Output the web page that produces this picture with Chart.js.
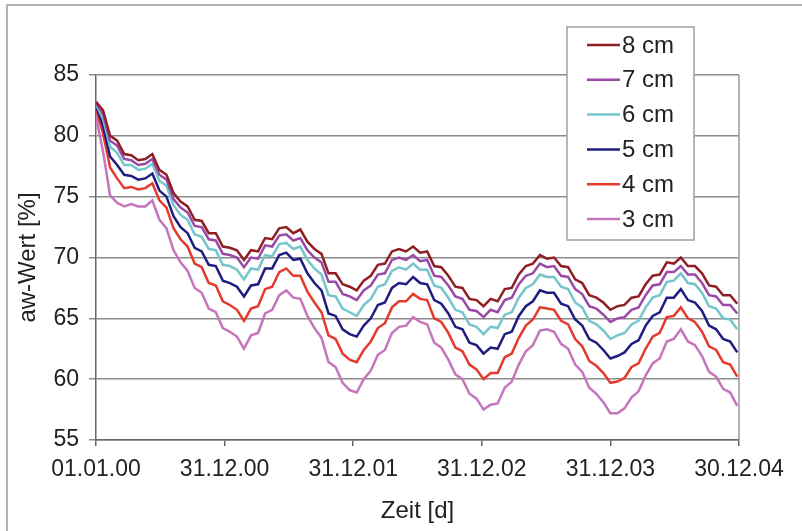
<!DOCTYPE html>
<html>
<head>
<meta charset="utf-8">
<script src="https://cdn.jsdelivr.net/npm/chart.js@4.4.1/dist/chart.umd.min.js"></script>
<style>
  html, body { margin: 0; padding: 0; background: #fff; }
  #frame { position: absolute; left: 6px; top: 4px; width: 820px; height: 560px;
           border-top: 2px solid #b4b4b4; border-left: 2px solid #b4b4b4; }
  #wrap { position: absolute; left: 0; top: 0; width: 802px; height: 531px; }
</style>
</head>
<body>
<div id="frame"></div>
<div id="wrap"><canvas id="chart" width="802" height="531"></canvas></div>
<script>
// Tage seit 01.01.00
const days = [0, 20, 40, 60, 80, 100, 120, 140, 160, 180, 200, 220, 240, 260, 280, 300, 320, 340, 360, 380,
  400, 420, 440, 460, 480, 500, 520, 540, 560, 580, 600, 620, 640, 660, 680, 700, 720, 740, 760, 780,
  800, 820, 840, 860, 880, 900, 920, 940, 960, 980, 1000, 1020, 1040, 1060, 1080, 1100, 1120, 1140, 1160, 1180,
  1200, 1220, 1240, 1260, 1280, 1300, 1320, 1340, 1360, 1380, 1400, 1420, 1440, 1460, 1480, 1500, 1520, 1540, 1560, 1580,
  1600, 1620, 1640, 1660, 1680, 1700, 1720, 1740, 1760, 1780, 1800, 1820];

const tickLabels = ['01.01.00', '31.12.00', '31.12.01', '31.12.02', '31.12.03', '30.12.04'];
const seriesNames = ['8 cm', '7 cm', '6 cm', '5 cm', '4 cm', '3 cm'];

const cm8 = [82.8, 82.1, 80.0, 79.6, 78.5, 78.4, 78.0, 78.1, 78.5, 77.2, 76.8, 75.3, 74.6, 74.2, 73.1, 73.0, 72.0, 72.0, 70.9, 70.8,
  70.6, 69.8, 70.6, 70.5, 71.6, 71.5, 72.4, 72.5, 72.0, 72.3, 71.3, 70.7, 70.3, 68.7, 68.7, 67.8, 67.6, 67.3, 68.1, 68.5,
  69.4, 69.5, 70.5, 70.7, 70.5, 70.9, 70.4, 70.5, 69.3, 69.2, 68.5, 67.6, 67.5, 66.6, 66.5, 66.0, 66.6, 66.4, 67.4, 67.5,
  68.6, 69.3, 69.5, 70.2, 69.9, 70.0, 69.3, 69.2, 68.2, 67.9, 66.9, 66.7, 66.3, 65.7, 66.0, 66.1, 66.7, 66.8, 67.8, 68.5,
  68.6, 69.6, 69.5, 70.0, 69.3, 69.3, 68.7, 67.7, 67.6, 66.9, 66.9, 66.2];

const cm7 = [82.7, 81.8, 79.6, 79.2, 78.1, 78.0, 77.6, 77.7, 78.1, 76.8, 76.4, 74.8, 74.1, 73.7, 72.6, 72.5, 71.5, 71.4, 70.3, 70.2,
  70.0, 69.2, 70.0, 69.9, 71.0, 70.9, 71.8, 71.9, 71.4, 71.6, 70.6, 70.0, 69.6, 68.0, 68.0, 67.0, 66.8, 66.5, 67.3, 67.7,
  68.6, 68.7, 69.8, 70.0, 69.8, 70.2, 69.7, 69.8, 68.5, 68.4, 67.7, 66.8, 66.6, 65.7, 65.6, 65.1, 65.7, 65.5, 66.5, 66.7,
  67.8, 68.5, 68.7, 69.5, 69.2, 69.3, 68.5, 68.4, 67.4, 67.0, 66.0, 65.8, 65.3, 64.7, 65.0, 65.1, 65.7, 65.9, 66.9, 67.7,
  67.8, 68.8, 68.8, 69.3, 68.6, 68.6, 67.9, 66.9, 66.8, 66.1, 66.1, 65.4];

const cm6 = [82.6, 81.4, 79.1, 78.6, 77.6, 77.6, 77.2, 77.3, 77.7, 76.3, 75.9, 74.3, 73.5, 73.1, 71.9, 71.7, 70.7, 70.6, 69.4, 69.3,
  69.0, 68.2, 69.1, 69.0, 70.2, 70.1, 71.1, 71.2, 70.7, 70.9, 69.8, 69.1, 68.6, 66.9, 66.8, 65.8, 65.5, 65.2, 66.1, 66.6,
  67.6, 67.8, 68.9, 69.2, 69.0, 69.5, 69.0, 69.0, 67.7, 67.5, 66.7, 65.7, 65.5, 64.5, 64.3, 63.7, 64.3, 64.2, 65.3, 65.5,
  66.7, 67.5, 67.8, 68.6, 68.4, 68.4, 67.6, 67.4, 66.3, 65.9, 64.8, 64.5, 64.0, 63.3, 63.6, 63.8, 64.5, 64.8, 65.9, 66.7,
  66.9, 68.0, 68.1, 68.7, 67.9, 67.8, 67.1, 66.0, 65.8, 65.0, 64.9, 64.1];

const cm5 = [82.5, 80.8, 78.3, 77.6, 76.8, 76.7, 76.4, 76.5, 76.9, 75.5, 75.0, 73.4, 72.5, 72.0, 70.8, 70.5, 69.4, 69.3, 68.1, 67.9,
  67.6, 66.8, 67.7, 67.8, 69.1, 69.1, 70.2, 70.4, 69.8, 69.9, 68.7, 67.9, 67.3, 65.4, 65.2, 64.1, 63.7, 63.5, 64.4, 65.0,
  66.1, 66.3, 67.5, 67.9, 67.8, 68.4, 67.9, 67.8, 66.5, 66.2, 65.4, 64.3, 64.1, 63.0, 62.8, 62.1, 62.6, 62.5, 63.7, 63.9,
  65.2, 66.0, 66.4, 67.3, 67.1, 67.1, 66.2, 66.0, 64.9, 64.4, 63.3, 63.0, 62.4, 61.7, 61.9, 62.2, 62.9, 63.2, 64.4, 65.2,
  65.5, 66.7, 66.7, 67.4, 66.5, 66.3, 65.6, 64.4, 64.1, 63.3, 63.1, 62.2];

const cm4 = [82.2, 80.2, 77.4, 76.5, 75.7, 75.8, 75.6, 75.7, 76.1, 74.7, 74.1, 72.4, 71.5, 70.9, 69.5, 69.2, 67.9, 67.7, 66.4, 66.1,
  65.7, 64.8, 65.8, 66.0, 67.4, 67.6, 68.8, 69.1, 68.5, 68.5, 67.2, 66.3, 65.5, 63.6, 63.3, 62.1, 61.6, 61.4, 62.4, 63.1,
  64.2, 64.6, 65.9, 66.4, 66.4, 67.0, 66.6, 66.5, 65.0, 64.7, 63.8, 62.6, 62.3, 61.2, 60.8, 60.0, 60.5, 60.5, 61.8, 62.1,
  63.4, 64.4, 64.9, 65.9, 65.8, 65.7, 64.8, 64.5, 63.3, 62.7, 61.5, 61.1, 60.5, 59.7, 59.8, 60.1, 61.0, 61.3, 62.5, 63.5,
  63.8, 65.1, 65.2, 65.9, 65.0, 64.7, 63.9, 62.7, 62.4, 61.4, 61.2, 60.2];

const cm3 = [81.6, 78.7, 75.1, 74.5, 74.2, 74.4, 74.2, 74.2, 74.7, 73.1, 72.4, 70.6, 69.6, 68.9, 67.5, 67.1, 65.8, 65.5, 64.2, 63.9,
  63.5, 62.5, 63.6, 63.8, 65.4, 65.7, 66.9, 67.3, 66.7, 66.6, 65.2, 64.2, 63.4, 61.4, 61.0, 59.7, 59.1, 58.9, 60.0, 60.7,
  62.0, 62.4, 63.8, 64.3, 64.4, 65.1, 64.7, 64.5, 63.0, 62.6, 61.6, 60.4, 60.0, 58.8, 58.4, 57.5, 57.9, 58.0, 59.3, 59.8,
  61.2, 62.3, 62.8, 64.0, 64.1, 63.9, 62.9, 62.5, 61.2, 60.6, 59.3, 58.8, 58.1, 57.2, 57.2, 57.6, 58.5, 59.0, 60.3, 61.3,
  61.7, 63.1, 63.3, 64.1, 63.1, 62.8, 61.9, 60.6, 60.2, 59.2, 58.9, 57.8];

const seriesValues = [cm8, cm7, cm6, cm5, cm4, cm3];
const seriesColors = ['#8e1f24', '#9a4aa6', '#74c6cc', '#1f1d80', '#e43a2c', '#c674bc'];

const FONT = '"Liberation Sans", Arial, sans-serif';

function toPoints(vals) {
    return vals.map((v, i) => ({ x: days[i], y: v }));
}

// Legende mit Rahmen, wie im Original rechts oben
const boxLegend = {
    id: 'boxLegend',
    afterDraw(chart) {
        const ctx = chart.ctx;
        const x0 = 567, y0 = 27, w = 127, h = 213;
        ctx.save();
        ctx.fillStyle = '#fff';
        ctx.fillRect(x0, y0, w, h);
        ctx.strokeStyle = '#a0a0a0';
        ctx.lineWidth = 1.5;
        ctx.strokeRect(x0, y0, w, h);
        ctx.font = '24px ' + FONT;
        ctx.textBaseline = 'middle';
        ctx.textAlign = 'left';
        chart.data.datasets.forEach((ds, i) => {
            const y = 45 + i * 34.8;
            ctx.strokeStyle = ds.borderColor;
            ctx.lineWidth = 2.5;
            ctx.beginPath();
            ctx.moveTo(587, y);
            ctx.lineTo(620, y);
            ctx.stroke();
            ctx.fillStyle = '#222';
            ctx.fillText(ds.label, 622, y + 1);
        });
        ctx.restore();
    }
};

// rechter Rand der Zeichenflaeche
const plotFrame = {
    id: 'plotFrame',
    beforeDatasetsDraw(chart) {
        const { ctx, chartArea } = chart;
        ctx.save();
        ctx.strokeStyle = '#9a9a9a';
        ctx.lineWidth = 1.5;
        ctx.beginPath();
        ctx.moveTo(chartArea.right, chartArea.top);
        ctx.lineTo(chartArea.right, chartArea.bottom);
        ctx.stroke();
        ctx.restore();
    }
};

new Chart(document.getElementById('chart'), {
    type: 'line',
    data: {
        datasets: seriesNames.map((name, i) => ({
            label: name,
            data: toPoints(seriesValues[i]),
            borderColor: seriesColors[i],
            backgroundColor: seriesColors[i],
            borderWidth: 2.5,
            pointRadius: 0,
            tension: 0,
            fill: false,
        })),
    },
    options: {
        responsive: false,
        animation: false,
        layout: { padding: { left: 8, right: 63, top: 75, bottom: 0 } },
        plugins: {
            legend: { display: false },
            tooltip: { enabled: false },
        },
        scales: {
            x: {
                type: 'linear',
                min: 0,
                max: 1825,
                afterFit: (s) => { s.height = 91; },
                ticks: {
                    stepSize: 365,
                    autoSkip: false,
                    maxRotation: 0,
                    padding: 10,
                    color: '#222',
                    font: { family: FONT, size: 23 },
                    callback: (v) => tickLabels[Math.round(v / 365)],
                },
                grid: { drawOnChartArea: false, drawTicks: true, tickLength: 6, color: '#666', lineWidth: 1.5 },
                border: { color: '#666', width: 1.5 },
                title: {
                    display: true,
                    text: 'Zeit [d]',
                    color: '#222',
                    font: { family: FONT, size: 24 },
                    padding: { top: 0, bottom: 5 },
                },
            },
            y: {
                min: 55,
                max: 85,
                afterFit: (s) => { s.width = 88; },
                ticks: {
                    stepSize: 5,
                    padding: 10,
                    color: '#222',
                    font: { family: FONT, size: 23 },
                },
                grid: { color: '#8c8c8c', lineWidth: 1.5, tickLength: 7, drawTicks: true },
                border: { color: '#666', width: 1.5 },
                title: {
                    display: true,
                    text: 'aw-Wert [%]',
                    color: '#222',
                    font: { family: FONT, size: 24 },
                    padding: { top: 6, bottom: 0 },
                },
            },
        },
    },
    plugins: [plotFrame, boxLegend],
});
</script>
</body>
</html>
